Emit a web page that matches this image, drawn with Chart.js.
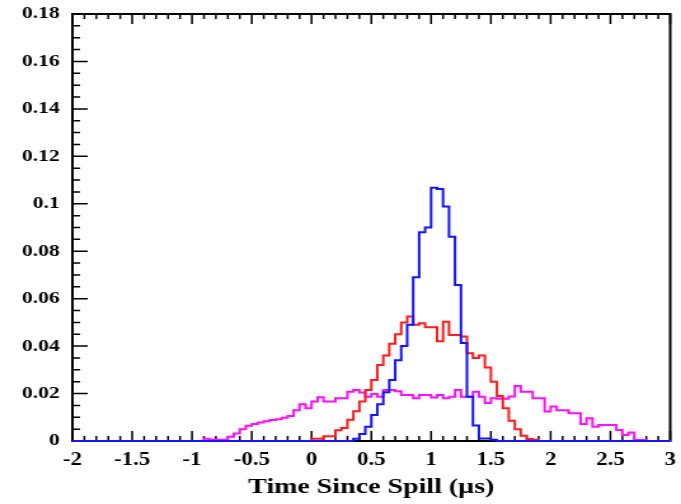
<!DOCTYPE html>
<html lang="en">
<head>
<meta charset="UTF-8">
<title>Time Since Spill</title>
<style>
  body { margin: 0; background: #fff; }
</style>
<script src="https://cdn.jsdelivr.net/npm/chart.js"></script>
</head>
<body>
<!-- drawn narrow and stretched to 681px wide, like the original picture -->
<canvas id="chart" width="536" height="504" style="width:681px;height:504px"></canvas>
<script>
// histogram binning
const binWidth = 0.05;
const xMin = -2;
const xMax = 3;

const xTicks = [-2, -1.5, -1, -0.5, 0, 0.5, 1, 1.5, 2, 2.5, 3];
const xTickLabels = ['-2', '-1.5', '-1', '-0.5', '0', '0.5', '1', '1.5', '2', '2.5', '3'];
const yTicks = [0, 0.02, 0.04, 0.06, 0.08, 0.1, 0.12, 0.14, 0.16, 0.18];
const yTickLabels = ['0', '0.02', '0.04', '0.06', '0.08', '0.1', '0.12', '0.14', '0.16', '0.18'];

// bin contents, first bin starts at *Start, zero elsewhere
const blueStart = 0.35;
const blueValues = [0.001, 0.003, 0.006, 0.011, 0.0155, 0.0205, 0.0257, 0.034, 0.040, 0.049,
  0.069, 0.088, 0.090, 0.1068, 0.1062, 0.0988, 0.0861, 0.0658, 0.0413, 0.0187,
  0.0065, 0.0011, 0.0011, 0.0005];

const redStart = 0;
const redValues = [0.001, 0.001, 0.002, 0.002, 0.0045, 0.0055, 0.009, 0.0125, 0.0166, 0.0215,
  0.0257, 0.032, 0.036, 0.041, 0.045, 0.050, 0.0525, 0.049, 0.0496, 0.048,
  0.048, 0.042, 0.0503, 0.0447, 0.0447, 0.044, 0.037, 0.035, 0.036, 0.031,
  0.025, 0.019, 0.0138, 0.0085, 0.005, 0.0022, 0.0008, 0.0005];

const magentaStart = -0.9;
const magentaValues = [0.001, 0.0005, 0.0005, 0.0005, 0.0018, 0.0032, 0.005, 0.0064, 0.0072, 0.0078,
  0.0083, 0.0089, 0.0092, 0.0098, 0.0105, 0.013, 0.0155, 0.0138, 0.0166, 0.0184,
  0.0166, 0.0166, 0.018, 0.018, 0.0208, 0.0215, 0.0204, 0.0187, 0.0198, 0.0187,
  0.0215, 0.0215, 0.021, 0.0194, 0.0194, 0.018, 0.0194, 0.0194, 0.0183, 0.0194,
  0.018, 0.0187, 0.0215, 0.0187, 0.0187, 0.0208, 0.0187, 0.016, 0.018, 0.0178,
  0.0178, 0.0188, 0.0232, 0.0208, 0.0208, 0.018, 0.018, 0.0124, 0.0145, 0.013,
  0.013, 0.0117, 0.0117, 0.0072, 0.0096, 0.006, 0.0067, 0.0067, 0.0067, 0.0046,
  0.0025, 0.0036, 0.0004, 0.0004];

// turn a block of bins into step points covering the whole axis
function histPoints(start, values) {
  const n = Math.round((xMax - xMin) / binWidth);
  const first = Math.round((start - xMin) / binWidth);
  const pts = [];
  for (let i = 0; i < n; i++) {
    const k = i - first;
    const y = (k >= 0 && k < values.length) ? values[k] : 0;
    pts.push({ x: +(xMin + i * binWidth).toFixed(2), y: y });
  }
  pts.push({ x: xMax, y: 0 });
  return pts;
}

// box and inward ticks, ROOT style
const framePlugin = {
  id: 'frame',
  beforeDatasetsDraw(chart) {
    const { ctx, chartArea: a, scales: { x, y } } = chart;
    ctx.save();
    ctx.strokeStyle = '#000';
    ctx.lineWidth = 2;
    ctx.strokeRect(a.left, a.top, a.right - a.left, a.bottom - a.top);

    ctx.lineWidth = 1.5;
    ctx.beginPath();
    const yStep = yTicks[1] - yTicks[0];
    for (let i = 0; i < yTicks.length; i++) {
      for (let s = 0; s < 4; s++) {
        if (i === yTicks.length - 1 && s > 0) break;
        const py = y.getPixelForValue(yTicks[i] + s * yStep / 4);
        const len = s === 0 ? 12 : 6;
        ctx.moveTo(a.left, py);
        ctx.lineTo(a.left + len, py);
      }
    }
    const xStep = xTicks[1] - xTicks[0];
    for (let i = 0; i < xTicks.length; i++) {
      for (let s = 0; s < 5; s++) {
        if (i === xTicks.length - 1 && s > 0) break;
        const px = x.getPixelForValue(xTicks[i] + s * xStep / 5);
        const len = s === 0 ? 10 : 5;
        ctx.moveTo(px, a.bottom);
        ctx.lineTo(px, a.bottom - len);
        ctx.moveTo(px, a.top);
        ctx.lineTo(px, a.top + len);
      }
    }
    ctx.stroke();
    ctx.restore();
  }
};

Chart.defaults.font.family = '"Liberation Serif", "DejaVu Serif", serif';
Chart.defaults.font.weight = 'bold';
Chart.defaults.color = '#000';

new Chart(document.getElementById('chart'), {
  type: 'line',
  data: {
    datasets: [
      { data: histPoints(blueStart, blueValues), borderColor: '#1414ff' },
      { data: histPoints(redStart, redValues), borderColor: '#ff1c1c' },
      { data: histPoints(magentaStart, magentaValues), borderColor: '#ff10ff' }
    ].map(d => Object.assign(d, {
      // 'before' = flat at the bin value up to the next edge, then the jump
      stepped: 'before', borderWidth: 2, pointRadius: 0, fill: false, clip: 4
    }))
  },
  options: {
    responsive: false,
    animation: false,
    devicePixelRatio: 1,
    layout: { padding: { top: 14, right: 8.5, left: 0, bottom: 0 } },
    plugins: { legend: { display: false }, tooltip: { enabled: false } },
    scales: {
      x: {
        type: 'linear',
        min: xMin,
        max: xMax,
        afterBuildTicks: ax => { ax.ticks = xTicks.map(v => ({ value: v })); },
        afterFit: ax => { ax.height = 63; ax.paddingLeft = 0; ax.paddingRight = 0; },
        grid: { display: false, drawTicks: false },
        border: { display: false },
        ticks: {
          callback: (v, i) => xTickLabels[i],
          font: { size: 18, weight: 'bold' }, padding: 9, maxRotation: 0, autoSkip: false
        },
        title: {
          display: true,
          text: 'Time Since Spill (\u00b5s)',
          font: { size: 22, weight: 'bold', lineHeight: 1 },
          padding: { top: 0, bottom: 6 }
        }
      },
      y: {
        min: 0,
        max: 0.18,
        afterBuildTicks: ax => { ax.ticks = yTicks.map(v => ({ value: v })); },
        afterFit: ax => { ax.width = 57; ax.paddingTop = 0; ax.paddingBottom = 0; },
        grid: { display: false, drawTicks: false },
        border: { display: false },
        ticks: {
          callback: (v, i) => yTickLabels[i],
          font: { size: 17, weight: 'bold' }, padding: 10, autoSkip: false
        }
      }
    }
  },
  plugins: [framePlugin]
});
</script>
</body>
</html>
